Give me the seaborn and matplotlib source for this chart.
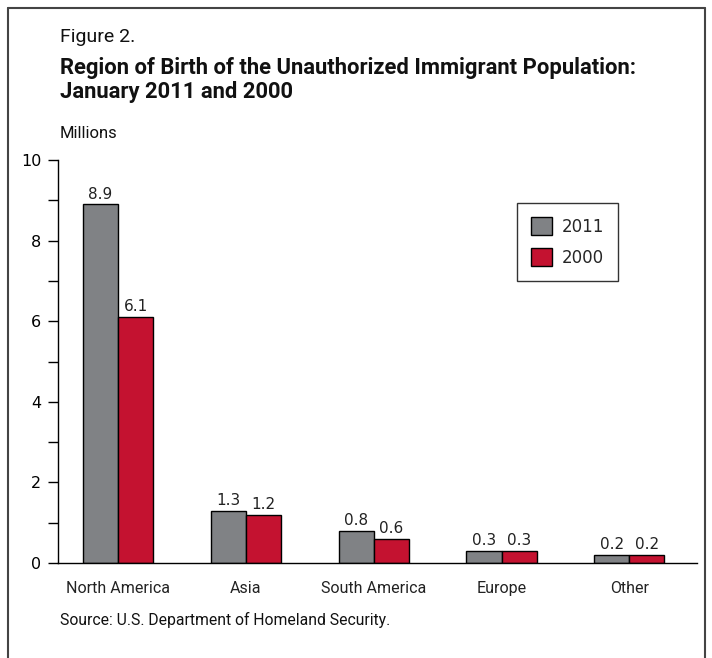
import pandas as pd
import matplotlib.pyplot as plt
import seaborn as sns
from matplotlib.patches import Rectangle
from matplotlib.lines import Line2D

# Datos
regiones = ['North America', 'Asia', 'South America', 'Europe', 'Other']
valores_2011 = [8.9, 1.3, 0.8, 0.3, 0.2]
valores_2000 = [6.1, 1.2, 0.6, 0.3, 0.2]
anios = ['2011', '2000']
colores = ['#808285', '#C41230']

df = pd.DataFrame({
    'region': regiones * 2,
    'valor': valores_2011 + valores_2000,
    'anio': ['2011'] * len(regiones) + ['2000'] * len(regiones),
})

sns.set_style('white')
plt.rcParams['font.family'] = ['Roboto', 'DejaVu Sans']

fig = plt.figure(figsize=(7.12, 6.58), dpi=100)
ax = fig.add_axes([0.0815, 0.1444, 0.8975, 0.6124])

sns.barplot(data=df, x='region', y='valor', hue='anio', hue_order=anios,
            palette=colores, width=0.548, gap=0, edgecolor='black',
            linewidth=1.0, saturation=1, ax=ax, legend=False)

# Etiquetas de valor encima de cada barra
for cont in ax.containers:
    ax.bar_label(cont, fmt='%.1f', padding=2, fontsize=11,
                 family=['DejaVu Sans'], color='#222222')

ax.set_xlim(-0.47, 4.53)
ax.set_ylim(0, 10)
ax.set_yticks([0, 2, 4, 6, 8, 10])
ax.set_yticks([1, 3, 5, 7, 9], minor=True)
ax.tick_params(axis='y', which='both', direction='out', length=7, width=1,
               left=True, labelsize=11.5, colors='black', pad=5)
ax.tick_params(axis='x', length=0, labelsize=11.5, pad=13, colors='#222222')
for lab in ax.get_yticklabels():
    lab.set_family(['DejaVu Sans'])
ax.set_xlabel('')
ax.set_ylabel('')
sns.despine(ax=ax, top=True, right=True)
for lado in ['left', 'bottom']:
    ax.spines[lado].set_linewidth(1)
    ax.spines[lado].set_color('black')

# Leyenda
handles = [Rectangle((0, 0), 1, 1, facecolor=c, edgecolor='black', linewidth=1)
           for c in colores]
leg = ax.legend(handles, anios, loc='upper left', bbox_to_anchor=(0.718, 0.893),
                frameon=True, fancybox=False, fontsize=12,
                handlelength=1.25, handleheight=1.25, borderpad=0.85,
                labelspacing=0.75, handletextpad=0.6, borderaxespad=0)
leg.get_frame().set_edgecolor('black')
leg.get_frame().set_linewidth(1)
for t in leg.get_texts():
    t.set_family(['DejaVu Sans'])

# Titulos y textos
fig.text(60 / 712, 1 - 37 / 658, 'Figure 2.', fontsize=14, va='center',
         color='#111111')
fig.text(60 / 712, 1 - 68 / 658, 'Region of Birth of the Unauthorized Immigrant Population:',
         fontsize=15.8, fontweight='bold', va='center', color='#111111')
fig.text(60 / 712, 1 - 92 / 658, 'January 2011 and 2000',
         fontsize=15.8, fontweight='bold', va='center', color='#111111')
fig.text(60 / 712, 1 - 133 / 658, 'Millions', fontsize=12, va='center',
         color='#111111')
fig.text(60 / 712, 1 - 620 / 658, 'Source: U.S. Department of Homeland Security.',
         fontsize=11.3, va='center', color='#111111')

# Marco abierto por abajo
marco = [([8, 8], [658, 8]), ([8, 705], [8, 8]), ([705, 705], [8, 658])]
for xs, ys in marco:
    fig.add_artist(Line2D([x / 712 for x in xs], [1 - y / 658 for y in ys],
                          color='#444444', linewidth=1.5))

fig.savefig('out.png', dpi=100)
